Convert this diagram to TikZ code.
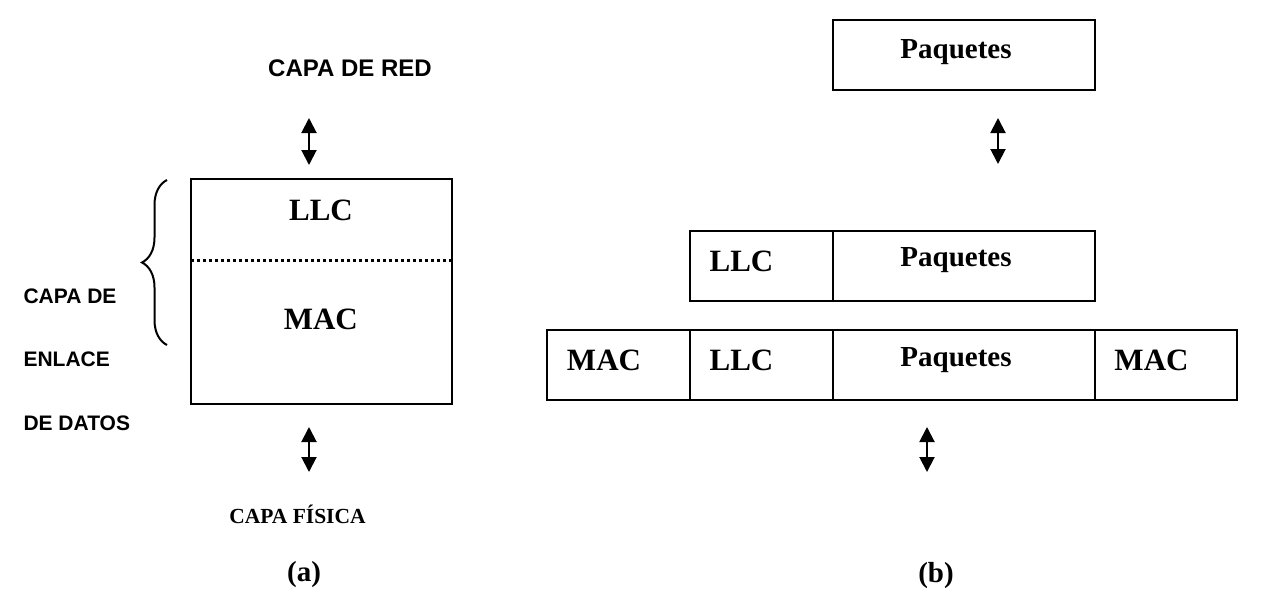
\documentclass[tikz,border=0pt]{standalone}
\usepackage{fontspec}
\setmainfont{Liberation Serif}
\newfontfamily\arialf{Liberation Sans}
\usetikzlibrary{arrows.meta,decorations.pathreplacing}
\tikzset{
  cell/.style={draw, line width=2pt, inner sep=0pt, anchor=north west},
  serif/.style={anchor=base, inner sep=0pt, font=\bfseries\fontsize{31}{31}\selectfont},
  paq/.style={anchor=base, inner sep=0pt, font=\bfseries\fontsize{29}{29}\selectfont},
  sanslab/.style={anchor=base west, inner sep=0pt, font=\arialf\bfseries\fontsize{21}{21}\selectfont},
  dblarrow/.style={line width=2pt, {Triangle[width=15pt,length=15pt]}-{Triangle[width=15pt,length=15pt]}},
  dotline/.style={line width=3pt, dash pattern=on 3pt off 3pt},
  bracestyle/.style={line width=2pt, decorate, decoration={brace, amplitude=25pt}}
}
\begin{document}
\begin{tikzpicture}[x=1pt,y=-1pt]
\useasboundingbox (0,0) rectangle (1277,598);
% ---------- (a) ----------
\node[anchor=base, inner sep=0pt, font=\arialf\bfseries\fontsize{24}{24}\selectfont] (red) at (350,76.7) {CAPA DE RED};
\node[cell, minimum width=261pt, minimum height=225pt] (boxa) at (190,178.3) {};
\coordinate (dl) at (191,260);
\coordinate (dr) at (451,260);
\draw[dotline] (dl) -- (dr);
\node[serif] (llca) at (321,220) {LLC};
\node[serif] (maca) at (320.8,329) {MAC};
\coordinate (a1t) at (309,118);
\coordinate (a1b) at (309,165);
\draw[dblarrow] (a1t) -- (a1b);
\coordinate (a2t) at (309,427);
\coordinate (a2b) at (309,472);
\draw[dblarrow] (a2t) -- (a2b);
\coordinate (brb) at (167,345);
\coordinate (brt) at (167,180);
\draw[bracestyle] (brb) -- (brt);
\node[sanslab] (enl1) at (23.3,303.3) {CAPA DE};
\node[sanslab] (enl2) at (23.3,366.7) {ENLACE};
\node[sanslab] (enl3) at (23.3,430) {DE DATOS};
\node[anchor=base, inner sep=0pt, font=\bfseries\fontsize{21.5}{21.5}\selectfont] (fis) at (297.5,523) {CAPA FÍSICA};
\node[anchor=base, inner sep=0pt, font=\bfseries\fontsize{29}{29}\selectfont] (capa) at (304,581.5) {(a)};
% ---------- (b) ----------
\node[cell, minimum width=262.3pt, minimum height=70pt] (p0) at (831.7,19.3) {};
\node[paq] (p0t) at (956,58.3) {Paquetes};
\coordinate (b1t) at (998,118);
\coordinate (b1b) at (998,164);
\draw[dblarrow] (b1t) -- (b1b);
% middle row
\node[cell, minimum width=143pt, minimum height=69.5pt] (m1) at (689,230) {};
\node[cell, minimum width=262pt, minimum height=69.5pt] (m2) at (832,230) {};
\node[serif] (m1t) at (741.5,271.7) {LLC};
\node[paq] (m2t) at (956,266.7) {Paquetes};
% bottom row
\node[cell, minimum width=143pt, minimum height=70pt] (r1) at (546,329) {};
\node[cell, minimum width=143pt, minimum height=70pt] (r2) at (689,329) {};
\node[cell, minimum width=262pt, minimum height=70pt] (r3) at (832,329) {};
\node[cell, minimum width=142pt, minimum height=70pt] (r4) at (1094,329) {};
\node[serif] (r1t) at (604,370.5) {MAC};
\node[serif] (r2t) at (741.5,370.5) {LLC};
\node[paq] (r3t) at (956,366.7) {Paquetes};
\node[serif] (r4t) at (1151.5,370.3) {MAC};
\coordinate (b2t) at (927,427);
\coordinate (b2b) at (927,472);
\draw[dblarrow] (b2t) -- (b2b);
\node[anchor=base, inner sep=0pt, font=\bfseries\fontsize{29}{29}\selectfont] (capb) at (936,582.5) {(b)};
\end{tikzpicture}
\end{document}
